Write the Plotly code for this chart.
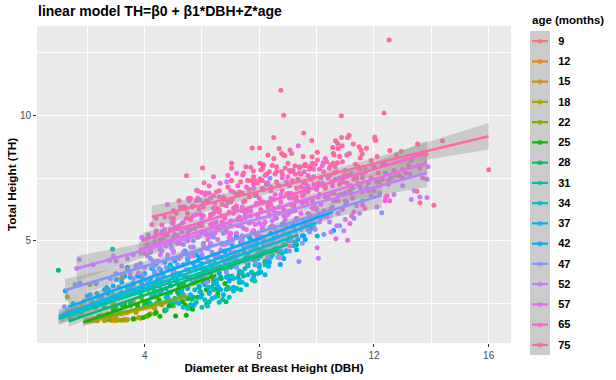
import plotly.graph_objects as go

AGES = [9, 12, 15, 18, 22, 25, 28, 31, 34, 37, 42, 47, 52, 57, 65, 75]
COLORS = ["#F8766D", "#E68613", "#CD9600", "#ABA300", "#7CAE00", "#0CB702", "#00BE67", "#00C19A",
          "#00BFC4", "#00B8E7", "#00A9FF", "#8494FF", "#C77CFF", "#ED68ED", "#FF61CC", "#FF68A1"]

# observed points per age class
X_9 = [2.0, 2.2, 2.5, 2.7, 3.0]
Y_9 = [1.85, 1.9, 1.95, 1.88, 2.05]
X_12 = [1.95, 2.2, 2.4, 2.6, 2.8, 3.0, 3.2, 3.4, 2.5, 2.9, 3.3]
Y_12 = [1.82, 1.85, 1.9, 1.82, 2.0, 1.9, 2.1, 2.15, 2.05, 1.85, 1.88]
X_15 = [2.1, 2.35, 2.6, 2.85, 3.1, 3.35, 3.6, 3.85, 4.1, 4.35, 3.0, 3.5, 4.0, 2.7, 3.7]
Y_15 = [1.84, 1.82, 1.86, 1.83, 1.85, 1.84, 1.88, 1.92, 2.0, 2.3, 2.25, 2.4, 2.5, 2.1, 2.15]
X_18 = [1.3, 1.8, 2.09, 2.15, 2.47, 3.25, 3.2, 3.28, 2.2, 2.6, 3.0, 3.4, 3.8, 4.2, 4.6, 2.9, 3.6, 4.4]
Y_18 = [2.77, 2.44, 3.26, 2.57, 2.77, 3.56, 3.5, 3.62, 1.82, 1.85, 1.83, 1.87, 1.95, 2.1, 2.45, 2.5, 2.6, 2.75]
X_22 = [2.3, 2.75, 3.2, 3.65, 4.05, 4.35, 4.7, 5.0, 5.35, 3.3, 3.9, 4.5, 2.9, 5.2]
Y_22 = [1.84, 1.86, 1.84, 1.9, 2.0, 2.1, 2.2, 2.4, 2.6, 2.5, 2.7, 3.0, 2.3, 3.1]
X_25 = [4.15, 4.53, 5.08, 5.45, 4.71, 5.29, 5.41, 5.56, 5.67, 4.4, 4.85, 5.05, 5.85, 5.95, 6.15, 6.51, 6.55, 6.8, 6.67, 3.6, 3.95,
        2.4, 2.9, 3.3, 4.3, 5.2, 6.0, 6.3]
Y_25 = [2.05, 2.0, 2.01, 2.04, 2.24, 2.57, 2.44, 2.37, 2.27, 2.15, 2.4, 2.7, 2.75, 2.97, 3.05, 3.1, 2.9, 3.3, 3.5, 1.9, 1.95,
        2.0, 2.25, 2.45, 2.85, 3.2, 3.55, 3.7]
X_28 = [0.99, 2.73, 1.4, 1.8, 2.3, 3.0, 3.5, 4.0, 4.4, 4.8, 5.2, 5.5, 5.9, 6.2, 6.5, 6.9, 7.3, 7.6, 8.05, 8.3, 9.3, 8.6, 7.0, 6.0,
        5.0, 4.3, 3.6, 6.16, 6.84, 7.18, 7.81, 5.64]
Y_28 = [3.83, 2.9, 1.9, 2.1, 2.35, 2.4, 2.5, 2.45, 2.5, 2.6, 2.85, 3.1, 3.15, 3.4, 3.3, 3.6, 3.7, 4.1, 3.76, 4.3, 4.84, 4.6, 4.3, 3.9,
        3.6, 3.1, 2.9, 2.48, 2.57, 3.1, 3.67, 2.67]
X_31 = [2.88, 1.5, 2.0, 2.6, 3.2, 3.8, 4.4, 4.9, 5.3, 5.8, 6.25, 6.72, 7.1, 7.5, 7.84, 8.2, 8.8, 6.6, 5.5, 4.6, 3.4, 7.9, 7.21]
Y_31 = [4.67, 2.05, 2.3, 2.5, 2.95, 3.1, 3.35, 3.2, 3.15, 3.4, 2.57, 2.66, 3.5, 3.9, 3.4, 4.2, 4.5, 4.35, 3.85, 3.7, 3.2, 4.75, 3.1]
X_34 = [2.68, 1.6, 2.2, 3.1, 3.7, 4.3, 4.75, 5.2, 5.72, 6.25, 6.84, 7.3, 7.73, 8.2, 8.7, 10.02, 9.1, 6.0, 5.0, 3.9, 6.8, 7.6]
Y_34 = [3.14, 2.3, 2.55, 2.85, 3.0, 3.3, 2.24, 3.05, 2.44, 2.9, 3.06, 3.45, 3.76, 4.05, 4.55, 5.19, 5.0, 4.1, 3.9, 3.55, 4.6, 4.85]
X_37 = [2.33, 1.2, 1.9, 2.5, 3.1, 3.6, 4.1, 4.55, 4.99, 5.29, 5.93, 6.4, 6.85, 7.6, 8.1, 8.6, 9.5, 5.5, 6.7, 7.4, 8.25, 4.8, 3.3, 9.9]
Y_37 = [2.9, 2.1, 2.6, 2.75, 3.15, 3.3, 3.4, 2.9, 2.6, 3.0, 2.97, 3.3, 3.55, 4.0, 4.5, 4.7, 5.2, 4.3, 4.9, 5.1, 7.25, 3.9, 3.6, 5.5]
X_42 = [1.33, 3.02, 1.23, 2.0, 2.6, 3.5, 4.0, 4.5, 4.9, 5.1, 5.72, 6.1, 6.6, 7.0, 7.4, 7.95, 8.32, 8.73, 9.0, 10.59, 9.6, 8.4, 7.2, 6.3, 5.4, 4.4, 3.4, 5.9, 6.9, 7.7]
Y_42 = [2.21, 3.46, 3.0, 2.8, 3.05, 3.55, 3.7, 3.2, 2.95, 3.4, 2.44, 3.25, 3.7, 3.95, 4.2, 4.3, 3.99, 4.06, 5.0, 5.41, 5.6, 5.3, 5.2, 4.85, 4.6, 4.1, 3.95, 4.35, 4.95, 5.05]
X_47 = [1.2, 1.57, 1.74, 2.3, 3.0, 3.7, 4.13, 4.5, 5.0, 5.5, 5.93, 6.1, 6.6, 7.2, 7.7, 8.2, 8.37, 8.8, 9.38, 12.27, 10.2, 11.0, 9.7, 7.0,
        6.3, 5.7, 4.9, 4.2, 8.6, 9.2, 7.5, 5.2, 6.9]
Y_47 = [2.37, 3.26, 3.32, 3.35, 3.7, 4.0, 5.23, 3.9, 4.3, 4.1, 6.62, 3.6, 4.0, 4.3, 4.6, 4.9, 7.49, 5.2, 4.18, 6.12, 6.0, 6.9, 5.7, 5.6,
        5.3, 5.0, 4.85, 4.55, 5.9, 6.3, 6.0, 5.5, 4.9]
X_52 = [1.72, 1.63, 2.77, 3.49, 3.78, 3.72, 3.9, 4.79, 4.91, 10.06, 8.72, 4.3, 5.0, 5.6, 6.2, 6.86, 7.4, 8.0, 8.6, 9.2, 9.8, 10.4, 11.0, 11.6, 12.2, 13.0,
        13.85, 13.85, 5.3, 6.0, 6.6, 7.2, 7.9, 8.5, 9.0, 9.6, 10.2, 10.8, 11.4, 12.6, 13.4, 13.88, 6.3, 4.6, 13.6]
Y_52 = [4.26, 3.9, 4.23, 3.72, 3.72, 4.03, 5.14, 6.45, 5.93, 4.31, 4.34, 4.2, 4.55, 4.45, 4.7, 7.35, 5.0, 5.2, 5.25, 5.5, 5.8, 6.1, 6.45, 6.6, 6.9, 7.2,
        6.73, 7.45, 5.7, 5.9, 6.15, 6.3, 6.5, 6.65, 6.9, 7.1, 7.3, 7.5, 7.6, 7.5, 7.0, 7.95, 6.7, 5.35, 6.75]
X_57 = [9.36, 7.21, 5.52, 10.67, 11.08, 10.02, 10.3, 10.23, 4.0, 4.5, 5.0, 5.5, 6.0, 6.5, 7.0, 7.5, 8.0, 8.5, 9.0, 9.5, 10.0, 10.5, 11.0, 11.5, 12.0,
        12.5, 13.0, 13.6, 4.4, 5.2, 5.8, 6.4, 6.9, 7.3, 7.8, 8.3, 8.8, 9.4, 9.9, 10.4, 10.9, 11.7, 12.3, 6.63, 5.4, 6.1, 7.6, 8.1, 9.7, 6.9]
Y_57 = [8.79, 7.69, 6.69, 5.08, 5.02, 4.72, 8.28, 8.11, 4.5, 4.85, 5.1, 5.0, 5.35, 5.55, 5.3, 5.9, 5.7, 6.2, 6.05, 6.5, 6.3, 6.9, 6.6, 7.2, 7.0,
        7.4, 7.5, 7.9, 5.3, 5.6, 6.05, 6.3, 6.55, 6.9, 7.1, 7.3, 7.5, 7.7, 7.85, 7.6, 7.35, 7.75, 8.05, 7.29, 6.35, 6.85, 7.4, 7.1, 7.2, 7.6]
X_65 = [12.38, 12.55, 12.46, 11.6, 11.68, 11.22, 11.16, 4.6, 4.98, 5.4, 4.1, 4.4, 4.8, 5.2, 5.6, 6.0, 6.4, 6.8, 7.2, 7.6, 8.0, 8.4, 8.8, 9.2, 9.6, 10.0,
        10.4, 10.8, 11.2, 11.6, 12.0, 12.4, 12.9, 13.3, 13.8, 5.99, 6.13, 5.85, 6.6, 7.0, 7.42, 7.8, 8.2, 8.6, 9.0, 9.4, 9.8, 10.2, 10.6, 6.25, 7.03, 8.14, 9.09, 9.18, 9.57, 10.44, 5.0, 5.8, 6.4]
Y_65 = [6.6, 6.6, 6.8, 6.43, 6.29, 6.0, 5.69, 5.63, 5.73, 6.29, 5.1, 5.4, 5.25, 5.55, 5.85, 5.6, 6.1, 5.9, 6.4, 6.2, 6.7, 6.45, 7.0, 6.7, 7.3, 7.05,
        7.5, 7.25, 7.7, 7.5, 8.0, 7.7, 7.6, 8.2, 8.45, 6.93, 6.91, 6.99, 6.75, 7.0, 7.62, 7.25, 7.6, 7.75, 7.55, 7.9, 7.45, 8.0, 7.7, 7.19, 7.4, 8.02, 7.75, 7.82, 7.75, 7.89, 6.2, 6.6, 7.55]
X_75 = [12.53, 8.75, 8.85, 10.86, 12.35, 16.0, 14.39, 13.52, 12.95, 12.79, 12.55, 12.11, 12.03, 12.03, 12.06, 11.74, 11.48, 11.55, 11.59, 11.52, 11.28, 11.14, 11.05,
        11.13, 11.08, 10.87, 10.66, 10.56, 10.89, 10.75, 10.73, 10.58, 10.61, 10.8, 10.02, 9.84, 9.53, 10.03, 9.85, 9.8, 10.72, 10.58, 10.49, 10.64,
        9.56, 9.63, 9.55, 9.83, 8.5, 7.75, 8.01, 8.3, 8.69, 8.78, 8.84, 8.89, 8.51, 9.07, 9.13, 9.0, 9.24, 8.02, 8.14, 8.11, 8.05, 7.53, 7.7, 7.79,
        7.03, 7.03, 6.02, 5.46, 6.07, 7.03, 7.75, 8.02, 8.55, 8.78, 8.6, 5.81, 13.6, 14.09, 13.5, 9.07, 13.0, 12.2, 11.4, 10.3, 9.3, 8.3, 7.4, 6.5, 5.6, 5.0]
Y_75 = [13.0, 11.0, 10.0, 9.98, 10.09, 7.83, 8.99, 8.86, 8.56, 8.43, 8.6, 8.36, 9.14, 9.07, 9.0, 8.69, 8.75, 8.62, 8.46, 8.3, 8.86, 8.48, 8.42,
        9.21, 9.12, 9.12, 8.99, 8.72, 8.79, 8.68, 8.88, 8.48, 8.42, 8.36, 8.53, 8.35, 8.36, 8.22, 8.09, 7.98, 8.11, 8.09, 8.02, 7.95,
        7.99, 7.99, 9.3, 9.0, 9.12, 8.7, 8.7, 8.42, 8.68, 8.48, 8.42, 8.39, 8.28, 8.62, 8.48, 8.09, 7.99, 8.09, 8.02, 7.89, 7.82, 7.95, 7.93, 7.78,
        8.09, 7.89, 7.9, 7.59, 7.31, 7.4, 7.4, 7.47, 7.66, 7.75, 7.35, 7.02, 6.52, 6.42, 6.98, 4.8, 7.85, 7.35, 7.5, 7.15, 6.75, 6.35, 6.9, 6.2, 5.9, 5.9]

# further points of the dense part of the cloud, as (DBH, TH)
MORE_25 = [(3.15, 2.15), (3.75, 2.4), (4.1, 2.5), (4.5, 2.65), (4.9, 2.45), (5.15, 2.95), (5.5, 2.7), (5.75, 3.35), (6.05, 3.35), (6.4, 3.45)]
MORE_28 = [(1.7, 2.0), (2.6, 2.35), (3.2, 2.45), (3.85, 2.9), (4.15, 2.55), (4.6, 3.05), (4.95, 2.5), (5.35, 3.3), (5.7, 2.75), (6.05, 3.6),
           (6.35, 3.15), (6.65, 3.55), (6.9, 3.15), (7.15, 4.0), (7.45, 3.6), (7.8, 4.25), (8.2, 4.15)]
MORE_31 = [(1.3, 2.1), (2.2, 2.4), (2.9, 2.75), (3.55, 2.95), (4.0, 3.05), (4.25, 2.85), (4.55, 3.4), (4.8, 2.8), (5.05, 3.5), (5.25, 2.75),
           (5.45, 3.55), (5.6, 2.45), (5.85, 3.65), (6.0, 2.85), (6.2, 3.85), (6.4, 3.05), (6.55, 2.8), (6.75, 3.9), (6.95, 3.1), (7.15, 4.15),
           (7.3, 3.35), (7.6, 4.05), (8.0, 3.95), (8.45, 4.45), (8.95, 4.6)]
MORE_34 = [(1.5, 2.25), (2.4, 2.7), (2.9, 2.85), (3.5, 3.1), (3.9, 3.05), (4.15, 3.45), (4.4, 2.95), (4.65, 3.6), (4.9, 2.95), (5.15, 3.7),
           (5.35, 2.85), (5.55, 3.8), (5.75, 3.05), (5.95, 3.45), (6.1, 2.65), (6.3, 4.05), (6.5, 3.35), (6.65, 3.05), (6.85, 4.2), (7.05, 3.6),
           (7.2, 4.45), (7.4, 3.75), (7.55, 4.35), (7.85, 4.05), (8.05, 4.65), (8.4, 4.35), (8.85, 4.85), (9.2, 4.8),
           (4.2, 2.5), (4.55, 2.5), (4.85, 2.65), (5.1, 2.55), (5.35, 2.35), (5.5, 2.3), (5.8, 2.55), (6.0, 2.35), (6.2, 2.4), (6.45, 2.75),
           (6.6, 2.55), (6.95, 2.75), (7.1, 3.0), (7.35, 3.05), (7.55, 3.25), (7.75, 3.45), (7.95, 3.7)]
MORE_37 = [(1.5, 2.5), (2.1, 2.85), (2.75, 3.05), (3.4, 3.1), (3.8, 3.6), (4.15, 3.25), (4.35, 3.75), (4.6, 3.3), (4.9, 4.05), (5.1, 3.45),
           (5.3, 3.1), (5.5, 4.15), (5.65, 3.3), (5.85, 4.2), (6.05, 3.65), (6.25, 3.15), (6.45, 4.4), (6.6, 3.75), (6.8, 4.15), (7.0, 3.5),
           (7.15, 4.55), (7.3, 3.8), (7.45, 4.8), (7.7, 4.3), (7.9, 4.95), (8.05, 4.4), (8.3, 4.85), (8.5, 5.1), (8.75, 4.6), (9.0, 5.25),
           (9.25, 4.95), (9.7, 5.45),
           (3.9, 3.15), (4.25, 2.75), (4.5, 3.55), (4.75, 2.75), (5.0, 3.7), (5.2, 2.5), (5.4, 3.6), (5.6, 2.85), (5.75, 3.85), (5.95, 2.75),
           (6.15, 3.4), (6.35, 2.7), (6.55, 3.2), (6.75, 2.85), (6.9, 4.3), (7.1, 3.15), (7.25, 4.15), (7.4, 3.35), (7.6, 4.45), (7.8, 3.55),
           (8.0, 4.05), (8.2, 3.65), (8.45, 4.45)]
MORE_42 = [(2.3, 3.3), (2.9, 3.2), (3.2, 3.35), (3.75, 3.6), (4.1, 3.05), (4.25, 3.9), (4.45, 3.45), (4.7, 4.15), (4.85, 3.35), (5.05, 4.2),
           (5.25, 3.65), (5.45, 4.5), (5.6, 3.5), (5.8, 4.45), (6.0, 3.55), (6.2, 4.7), (6.35, 3.95), (6.5, 3.45), (6.7, 4.35), (6.85, 3.9),
           (7.05, 4.85), (7.15, 4.0), (7.35, 4.95), (7.5, 4.3), (7.65, 5.15), (7.85, 4.35), (8.0, 5.1), (8.2, 4.6), (8.4, 5.55), (8.55, 4.7),
           (8.8, 5.65), (8.95, 4.6), (9.15, 5.7), (9.35, 5.05), (9.55, 5.2), (9.8, 5.5), (10.1, 6.05),
           (3.6, 3.25), (3.9, 3.3), (4.2, 3.5), (4.55, 3.85), (4.75, 3.1), (5.0, 3.85), (5.2, 3.05), (5.35, 4.05), (5.5, 3.15), (5.7, 4.1),
           (5.9, 3.2), (6.1, 3.9), (6.25, 2.95), (6.45, 4.1), (6.6, 3.1), (6.8, 4.55), (6.95, 3.4), (7.1, 4.35), (7.25, 3.55), (7.45, 4.6),
           (7.6, 3.65), (7.8, 4.75), (8.0, 3.75), (8.15, 4.85), (8.35, 4.15), (8.6, 5.15), (8.85, 4.3), (9.05, 5.25), (9.3, 4.65), (9.6, 5.05)]
MORE_47 = [(2.8, 3.5), (3.4, 3.85), (3.95, 3.65), (4.2, 4.3), (4.35, 3.7), (4.6, 4.6), (4.75, 3.95), (5.0, 4.6), (5.15, 4.05), (5.35, 4.85),
           (5.55, 4.35), (5.7, 4.75), (5.9, 3.95), (6.05, 4.9), (6.2, 4.25), (6.4, 5.15), (6.55, 4.45), (6.75, 5.3), (6.9, 4.2), (7.05, 5.05),
           (7.25, 4.5), (7.45, 5.5), (7.6, 4.75), (7.8, 5.4), (7.95, 4.55), (8.15, 5.65), (8.35, 4.85), (8.5, 5.55), (8.7, 4.7), (8.9, 5.85),
           (9.1, 5.05), (9.3, 5.9), (9.5, 4.9), (9.75, 5.35), (10.0, 6.25), (10.25, 5.25), (10.55, 6.35), (10.8, 5.6), (11.3, 5.9), (11.55, 7.05),
           (3.2, 3.65), (3.6, 3.5), (3.85, 4.1), (4.05, 3.45), (4.3, 3.95), (4.55, 3.55), (4.8, 4.3), (5.0, 3.75), (5.25, 4.4), (5.45, 3.85),
           (5.65, 4.5), (5.8, 3.55), (6.0, 4.45), (6.15, 3.35), (6.35, 4.55), (6.5, 3.9), (6.7, 4.85), (6.85, 3.75), (7.0, 4.55), (7.2, 3.95),
           (7.4, 5.0), (7.55, 4.15), (7.75, 4.9), (7.9, 4.1), (8.1, 5.15), (8.3, 4.35), (8.45, 5.0), (8.65, 4.35), (8.85, 5.35), (9.05, 4.6),
           (9.25, 5.4), (9.5, 5.6), (9.9, 5.65), (10.15, 5.9)]
MORE_52 = [(2.2, 4.05), (2.9, 4.4), (3.2, 4.0), (3.6, 4.45), (4.0, 3.95), (4.2, 4.75), (4.45, 4.2), (4.65, 5.1), (4.8, 4.45), (5.05, 5.25),
           (5.2, 4.3), (5.4, 5.1), (5.6, 4.75), (5.75, 5.5), (5.95, 4.6), (6.1, 5.35), (6.3, 4.9), (6.5, 5.75), (6.65, 4.65), (6.85, 5.45),
           (7.05, 4.95), (7.25, 5.85), (7.4, 5.2), (7.55, 6.15), (7.75, 5.35), (7.95, 5.95), (8.15, 5.05), (8.35, 6.05), (8.55, 5.5), (8.7, 6.35),
           (8.95, 5.55), (9.1, 6.15), (9.3, 5.2), (9.5, 6.55), (9.65, 5.55), (9.9, 6.45), (10.1, 5.75), (10.3, 6.75), (10.5, 5.35), (10.75, 6.1),
           (11.0, 5.85), (11.25, 7.1), (11.5, 6.1), (11.8, 7.3), (12.1, 6.35), (12.7, 6.85), (13.3, 6.65),
           (3.0, 4.2), (3.4, 4.3), (3.85, 4.55), (4.1, 4.4), (4.35, 4.95), (4.55, 4.45), (4.75, 4.8), (4.95, 4.7), (5.15, 4.9), (5.35, 4.55),
           (5.5, 5.3), (5.7, 4.4), (5.9, 5.2), (6.05, 4.8), (6.25, 5.15), (6.45, 4.45), (6.6, 5.45), (6.8, 4.85), (7.0, 5.25), (7.15, 4.55),
           (7.35, 5.6), (7.5, 4.85), (7.7, 5.75), (7.9, 5.2), (8.1, 5.6), (8.3, 4.95), (8.45, 5.8), (8.65, 5.15), (8.85, 6.0), (9.05, 5.3),
           (9.25, 5.8), (9.45, 5.45), (9.7, 6.1), (9.95, 5.45), (10.2, 6.0), (10.45, 5.75), (10.7, 5.6), (10.95, 5.4)]
MORE_57 = [(3.95, 5.05), (4.2, 4.6), (4.35, 5.15), (4.55, 4.65), (4.7, 5.45), (4.85, 4.95), (5.05, 5.55), (5.2, 4.9), (5.35, 5.75), (5.5, 5.2),
           (5.7, 6.0), (5.85, 5.15), (6.0, 5.7), (6.15, 5.25), (6.3, 5.95), (6.45, 5.3), (6.6, 6.25), (6.75, 5.6), (6.95, 5.15), (7.1, 6.1),
           (7.25, 5.6), (7.4, 6.35), (7.55, 5.45), (7.7, 6.2), (7.85, 5.65), (8.05, 6.55), (8.2, 5.75), (8.4, 6.7), (8.55, 5.9), (8.75, 6.85),
           (8.9, 5.95), (9.1, 6.45), (9.3, 5.85), (9.55, 6.85), (9.75, 6.05), (10.0, 7.2), (10.15, 6.45), (10.35, 5.95), (10.6, 6.6), (10.9, 6.25),
           (11.2, 6.9), (11.4, 6.4), (11.9, 6.8), (12.4, 6.75), (12.75, 7.6), (13.25, 7.65),
           (4.1, 4.85), (4.6, 5.3), (4.95, 5.7), (5.15, 5.2), (5.45, 5.5), (5.6, 5.45), (5.9, 5.6), (6.05, 6.0), (6.2, 5.05), (6.4, 5.7),
           (6.55, 5.05), (6.7, 6.0), (6.85, 5.35), (7.0, 5.8), (7.2, 5.3), (7.35, 5.85), (7.5, 6.15), (7.65, 5.7), (7.8, 5.4), (7.95, 6.05),
           (8.1, 5.5), (8.3, 6.4), (8.45, 5.6), (8.65, 6.1), (8.85, 5.7), (9.05, 6.7), (9.25, 6.2), (9.45, 6.1), (9.65, 6.55), (9.85, 6.3),
           (10.05, 6.75), (10.25, 6.2), (10.5, 6.25), (10.75, 6.8), (11.05, 6.55), (11.3, 6.15), (11.6, 6.95)]
MORE_65 = [(4.25, 5.65), (4.55, 5.05), (4.7, 5.95), (4.9, 5.45), (5.1, 6.1), (5.3, 5.35), (5.45, 5.9), (5.65, 6.35), (5.75, 5.5), (5.95, 6.05),
           (6.15, 6.6), (6.3, 5.65), (6.5, 6.3), (6.7, 5.75), (6.75, 6.75), (6.95, 6.15), (7.1, 6.95), (7.3, 5.95), (7.45, 6.55), (7.55, 7.15),
           (7.7, 6.0), (7.9, 6.85), (8.05, 6.25), (8.25, 7.3), (8.35, 6.0), (8.55, 6.85), (8.7, 7.2), (8.85, 6.25), (9.05, 7.2), (9.2, 6.4),
           (9.35, 7.45), (9.5, 6.8), (9.7, 7.6), (9.85, 6.6), (10.05, 7.3), (10.25, 7.75), (10.4, 6.75), (10.65, 7.45), (10.85, 6.85), (11.05, 7.3),
           (11.25, 6.7), (11.5, 7.85), (11.75, 7.1), (12.1, 7.35), (12.5, 7.25), (13.1, 7.7),
           (4.4, 5.9), (4.75, 5.25), (5.0, 5.75), (5.25, 6.35), (5.55, 6.6), (5.85, 6.7), (6.05, 6.35), (6.25, 6.9), (6.45, 6.5), (6.6, 7.0),
           (6.85, 6.4), (7.05, 6.65), (7.25, 7.2), (7.4, 6.2), (7.65, 6.75), (7.85, 7.4), (8.0, 6.5), (8.15, 7.05), (8.4, 7.15), (8.5, 6.3),
           (8.75, 6.55), (8.95, 7.35), (9.1, 6.9), (9.3, 6.6), (9.45, 7.15), (9.65, 7.05), (9.9, 7.25), (10.1, 6.85), (10.3, 7.1), (10.55, 7.2),
           (10.75, 6.6), (10.95, 7.6), (11.15, 7.0), (11.45, 7.3), (11.9, 7.5)]
MORE_75 = [(5.2, 6.6), (5.5, 6.1), (5.7, 6.4), (5.9, 6.25), (6.2, 6.6), (6.3, 6.05), (6.5, 6.95), (6.7, 6.45), (6.9, 7.15), (7.1, 6.3),
           (7.2, 6.85), (7.35, 7.35), (7.5, 6.6), (7.65, 7.05), (7.85, 6.8), (7.95, 7.3), (8.15, 6.55), (8.25, 7.65), (8.4, 7.0), (8.45, 8.0),
           (8.65, 7.2), (8.9, 7.9), (8.95, 6.85), (9.15, 7.4), (9.3, 7.1), (9.45, 7.65), (9.6, 8.05), (9.7, 6.95), (9.9, 7.55), (10.1, 7.85),
           (10.25, 7.2), (10.45, 7.6), (10.6, 6.9), (10.85, 7.45), (11.0, 7.8), (11.2, 7.2), (11.35, 8.05), (11.6, 7.65), (11.8, 7.0), (12.0, 7.9),
           (12.3, 7.45), (12.7, 7.8), (13.2, 8.0), (13.7, 7.5),
           (5.35, 6.35), (5.6, 6.7), (6.05, 6.5), (6.4, 6.8), (6.6, 6.2), (6.8, 6.65), (7.0, 6.55), (7.3, 6.95), (7.45, 7.7), (7.6, 7.4),
           (7.8, 7.55), (8.1, 7.4), (8.35, 7.75), (8.6, 7.95), (8.8, 7.65), (9.05, 7.8), (9.25, 7.65), (9.4, 7.95), (9.55, 7.3), (9.75, 7.85),
           (9.95, 8.05), (10.15, 7.5), (10.35, 8.15), (10.55, 7.35), (10.7, 7.75), (10.9, 8.15), (11.1, 7.6), (11.3, 7.45), (11.45, 7.95), (11.7, 7.85),
           (11.9, 8.2), (12.15, 7.7), (12.4, 8.05)]

# fitted line and half-width of its confidence band per age class
FIT_X_9 = [2.0, 2.25, 2.5, 2.75, 3.0]
FIT_Y_9 = [1.85, 1.9, 1.95, 2.0, 2.05]
FIT_SE_9 = [0.14, 0.09, 0.07, 0.09, 0.14]
FIT_X_12 = [1.9, 2.3, 2.65, 3.0, 3.4]
FIT_Y_12 = [1.8, 1.89, 1.98, 2.06, 2.15]
FIT_SE_12 = [0.13, 0.08, 0.06, 0.08, 0.13]
FIT_X_15 = [2.0, 2.6, 3.2, 3.8, 4.4]
FIT_Y_15 = [1.78, 1.94, 2.09, 2.25, 2.4]
FIT_SE_15 = [0.12, 0.07, 0.05, 0.07, 0.12]
FIT_X_18 = [2.0, 2.7, 3.4, 4.1, 4.8]
FIT_Y_18 = [1.8, 1.99, 2.18, 2.36, 2.55]
FIT_SE_18 = [0.12, 0.07, 0.05, 0.07, 0.12]
FIT_X_22 = [2.1, 2.95, 3.8, 4.65, 5.5]
FIT_Y_22 = [1.82, 2.07, 2.31, 2.56, 2.8]
FIT_SE_22 = [0.13, 0.07, 0.05, 0.07, 0.13]
FIT_X_25 = [1.85, 3.0, 4.2, 5.35, 6.5]
FIT_Y_25 = [1.75, 2.21, 2.7, 3.16, 3.63]
FIT_SE_25 = [0.17, 0.09, 0.05, 0.09, 0.17]
FIT_X_28 = [1.35, 3.2, 5.0, 6.8, 8.65]
FIT_Y_28 = [1.8, 2.52, 3.23, 3.93, 4.66]
FIT_SE_28 = [0.22, 0.1, 0.05, 0.1, 0.2]
FIT_X_31 = [1.0, 3.0, 5.0, 7.0, 9.0]
FIT_Y_31 = [1.9, 2.64, 3.38, 4.11, 4.85]
FIT_SE_31 = [0.24, 0.11, 0.05, 0.1, 0.2]
FIT_X_34 = [1.05, 3.1, 5.2, 7.3, 9.35]
FIT_Y_34 = [1.95, 2.77, 3.6, 4.42, 5.23]
FIT_SE_34 = [0.27, 0.11, 0.05, 0.1, 0.22]
FIT_X_37 = [1.0, 3.25, 5.5, 7.75, 10.0]
FIT_Y_37 = [2.0, 2.93, 3.86, 4.79, 5.72]
FIT_SE_37 = [0.27, 0.12, 0.05, 0.11, 0.24]
FIT_X_42 = [1.33, 3.64, 5.95, 8.26, 10.57]
FIT_Y_42 = [2.37, 3.32, 4.26, 5.21, 6.16]
FIT_SE_42 = [0.3, 0.13, 0.06, 0.12, 0.27]
FIT_X_47 = [1.22, 4.0, 6.75, 9.5, 12.27]
FIT_Y_47 = [3.03, 3.98, 4.93, 5.87, 6.82]
FIT_SE_47 = [0.45, 0.2, 0.07, 0.18, 0.5]
FIT_X_52 = [1.63, 4.7, 7.75, 10.8, 13.85]
FIT_Y_52 = [3.9, 4.85, 5.8, 6.75, 7.7]
FIT_SE_52 = [0.5, 0.22, 0.08, 0.2, 0.55]
FIT_X_57 = [3.8, 6.3, 8.8, 11.35, 13.85]
FIT_Y_57 = [4.65, 5.51, 6.38, 7.25, 8.1]
FIT_SE_57 = [0.3, 0.13, 0.09, 0.2, 0.45]
FIT_X_65 = [3.95, 6.4, 8.9, 11.4, 13.85]
FIT_Y_65 = [5.03, 5.88, 6.76, 7.64, 8.5]
FIT_SE_65 = [0.3, 0.13, 0.09, 0.2, 0.5]
FIT_X_75 = [4.25, 7.2, 10.1, 13.05, 16.0]
FIT_Y_75 = [5.95, 6.76, 7.55, 8.36, 9.17]
FIT_SE_75 = [0.46, 0.22, 0.15, 0.28, 0.53]

W, H = 616, 380
FONT = "Liberation Sans, Arial, sans-serif"
G = globals()
fig = go.Figure()

for age, color in zip(AGES, COLORS):
    more = G.get(f"MORE_{age}", [])
    px = G[f"X_{age}"] + [p[0] for p in more]
    py = G[f"Y_{age}"] + [p[1] for p in more]
    fig.add_trace(go.Scatter(x=px, y=py, mode="markers", name=str(age),
                             marker=dict(color=color, size=5, line=dict(width=0)), showlegend=False))

for age, color in zip(AGES, COLORS):
    fx, fy, fs = G[f"FIT_X_{age}"], G[f"FIT_Y_{age}"], G[f"FIT_SE_{age}"]
    hi = [a + b for a, b in zip(fy, fs)]
    lo = [a - b for a, b in zip(fy, fs)]
    fig.add_trace(go.Scatter(x=fx + fx[::-1], y=hi + lo[::-1], mode="lines", fill="toself",
                             fillcolor="rgba(153,153,153,0.4)", line=dict(width=0), hoverinfo="skip",
                             showlegend=False))

for age, color in zip(AGES, COLORS):
    fig.add_trace(go.Scatter(x=G[f"FIT_X_{age}"], y=G[f"FIT_Y_{age}"], mode="lines", name=str(age),
                             line=dict(color=color, width=2.6), showlegend=False))

# key column: its own small axes, one row per age
for age, color in zip(AGES, COLORS):
    fig.add_trace(go.Scatter(x=[0.1, 0.5, 0.9], y=[str(age)] * 3, xaxis="x2", yaxis="y2", mode="lines+markers",
                             line=dict(color=color, width=2.2), marker=dict(color=color, size=[0, 5, 0], line=dict(width=0)),
                             showlegend=False, hoverinfo="skip"))

tick_font = dict(family=FONT, size=10, color="#4D4D4D")
fig.update_layout(
    width=W, height=H, margin=dict(l=0, r=0, t=0, b=0), autosize=False,
    paper_bgcolor="white", plot_bgcolor="#EBEBEB", showlegend=False,
    title=dict(text="<b>linear model TH=β0 + β1*DBH+Z*age</b>", x=38 / W, xanchor="left", y=1 - 11 / H,
               yanchor="middle", font=dict(family=FONT, size=14, color="black")),
    xaxis=dict(domain=[37 / W, 511 / W], range=[0.244, 16.78], tick0=0, dtick=4, showgrid=True, gridcolor="white",
               gridwidth=1.2, zeroline=False, ticks="outside", ticklen=3, tickcolor="#333333", tickfont=tick_font,
               minor=dict(tick0=0, dtick=2, showgrid=True, gridcolor="white", gridwidth=0.6, ticks=""),
               title=dict(text="<b>Diameter at Breast Height (DBH)</b>", standoff=3,
                          font=dict(family=FONT, size=11.7, color="black"))),
    yaxis=dict(domain=[1 - 343 / H, 1 - 26 / H], range=[0.93, 13.56], tick0=0, dtick=5, showgrid=True, gridcolor="white",
               gridwidth=1.2, zeroline=False, ticks="outside", ticklen=3, tickcolor="#333333", tickfont=tick_font,
               minor=dict(tick0=0, dtick=2.5, showgrid=True, gridcolor="white", gridwidth=0.6, ticks=""),
               title=dict(text="<b>Total Height (TH)</b>", standoff=0,
                          font=dict(family=FONT, size=11.7, color="black"))),
    xaxis2=dict(domain=[530 / W, 550 / W], range=[0, 1], anchor="y2", visible=False, fixedrange=True),
    yaxis2=dict(domain=[1 - 355 / H, 1 - 31 / H], anchor="x2", side="right", type="category",
                categoryorder="array", categoryarray=[str(a) for a in AGES], range=[15.5, -0.5], showgrid=False,
                zeroline=False, showline=False, ticks="outside", ticklen=5, tickcolor="rgba(0,0,0,0)",
                tickfont=dict(family=FONT, size=11, color="black", weight="bold"), fixedrange=True),
    shapes=[dict(type="rect", xref="x2 domain", yref="y2 domain", x0=0, x1=1, y0=0, y1=1,
                 fillcolor="#CBCBCB", line=dict(width=0), layer="below")],
    annotations=[dict(text="<b>age (months)</b>", xref="paper", yref="paper", x=530 / W, y=1 - 20 / H, xanchor="left",
                      yanchor="middle", showarrow=False, font=dict(family=FONT, size=11.5, color="black"))],
)
fig.write_html("out.html", config={"displayModeBar": False},
               post_script="document.body.style.margin='0';document.documentElement.style.overflow='hidden';")
